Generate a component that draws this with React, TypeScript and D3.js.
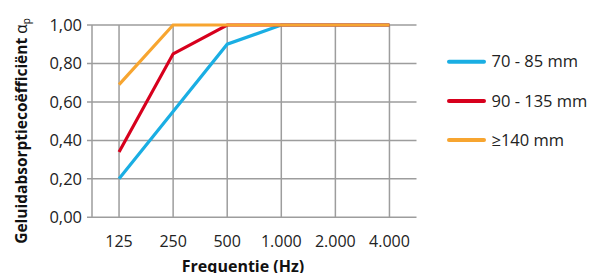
import React from "react";
import * as d3 from "d3";

const categories = ["125", "250", "500", "1.000", "2.000", "4.000"];
const seriesNames = ["70 - 85 mm", "90 - 135 mm", "≥140 mm"];
const blueValues = [0.2, 0.55, 0.9, 1.0, 1.0, 1.0];
const redValues = [0.34, 0.85, 1.0, 1.0, 1.0, 1.0];
const orangeValues = [0.69, 1.0, 1.0, 1.0, 1.0, 1.0];
const yTicks = [0, 0.2, 0.4, 0.6, 0.8, 1.0];
const colors = ["#1aaee3", "#d7001d", "#f7a530"];

const W = 596;
const H = 273;
const left = 92;
const right = 416.5;
const top = 25;
const bottom = 217.3;
const FONT = "'Open Sans', sans-serif";

export default function App() {
  const x = d3.scaleBand<string>().domain(categories).range([left, right]);
  const y = d3.scaleLinear().domain([0, 1]).range([bottom, top]);
  const cx = (c: string) => (x(c) as number) + x.bandwidth() / 2;
  const line = d3
    .line<number>()
    .x((_, i) => cx(categories[i]))
    .y((d) => y(d));
  const series = [blueValues, redValues, orangeValues];
  const fmt = (v: number) => v.toFixed(2).replace(".", ",");

  return (
    <svg
      width={W}
      height={H}
      style={{ position: "absolute", left: 0, top: 0 }}
      fontFamily={FONT}
    >
      <rect width={W} height={H} fill="#fff" />
      {yTicks.map((t) => (
        <g key={t}>
          <line x1={left - 5} x2={right} y1={y(t)} y2={y(t)} stroke="#9d9d9d" strokeWidth={1.5} />
          <text x={82} y={y(t)} dy="0.35em" textAnchor="end" fontSize={16.5} fill="#222">
            {fmt(t)}
          </text>
        </g>
      ))}
      <line x1={left} x2={left} y1={top} y2={bottom} stroke="#9d9d9d" strokeWidth={1.5} />
      {categories.map((c) => (
        <g key={c}>
          <line x1={cx(c)} x2={cx(c)} y1={top} y2={bottom} stroke="#9d9d9d" strokeWidth={1.5} />
          <text x={cx(c)} y={247} textAnchor="middle" fontSize={16} fill="#222">
            {c}
          </text>
        </g>
      ))}
      {series.map((s, i) => (
        <path
          key={i}
          d={line(s) as string}
          fill="none"
          stroke={colors[i]}
          strokeWidth={3.2}
          strokeLinejoin="miter"
        />
      ))}
      <text x={243} y={272} textAnchor="middle" fontSize={16} fontWeight="bold" fill="#111">
        Frequentie (Hz)
      </text>
      <text
        transform="translate(27,131) rotate(-90)"
        textAnchor="middle"
        fontSize={15.5}
        fontWeight="bold"
        fill="#111"
      >
        Geluidabsorptiecoëfficiënt
        <tspan fontWeight="normal"> α</tspan>
        <tspan fontWeight="normal" fontSize={10} dy={3}>p</tspan>
      </text>
      {seriesNames.map((n, i) => (
        <g key={n}>
          <line
            x1={449}
            x2={484}
            y1={61.7 + i * 39.2}
            y2={61.7 + i * 39.2}
            stroke={colors[i]}
            strokeWidth={4}
            strokeLinecap="round"
          />
          <text x={491.5} y={61.7 + i * 39.2} dy="0.35em" fontSize={16.5} fill="#222">
            {n}
          </text>
        </g>
      ))}
    </svg>
  );
}
